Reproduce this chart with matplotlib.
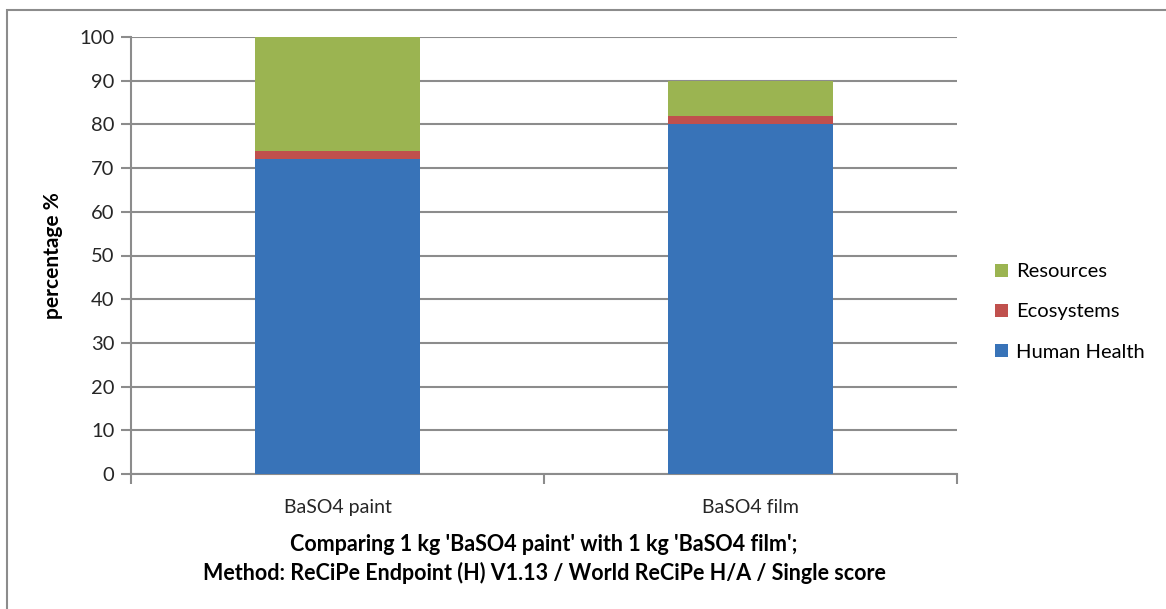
import matplotlib.pyplot as plt
from matplotlib.patches import Rectangle

# 单一评分结果（百分比）
products = ['BaSO4 paint', 'BaSO4 film']
human_health = [72, 80]
ecosystems = [2, 2]
resources = [26, 8]

yticks = list(range(0, 101, 10))

plt.rcParams['font.family'] = ['Lato', 'DejaVu Sans']

fig = plt.figure(figsize=(11.66, 6.09), dpi=100)
ax = fig.add_axes([131 / 1166, 1 - 474 / 609, (957 - 131) / 1166, (474 - 37) / 609])

# 外框
fig.patches.append(Rectangle((7 / 1166, -0.1), 1.2, 1 - 10 / 609 + 0.1,
                             transform=fig.transFigure, fill=False,
                             edgecolor='#8c8c8c', linewidth=1.5))

x = range(len(products))
bottom2 = [a + b for a, b in zip(human_health, ecosystems)]
ax.bar(x, human_health, width=0.4, color='#3873b8', zorder=3, label='Human Health')
ax.bar(x, ecosystems, width=0.4, bottom=human_health, color='#c0504d', zorder=3, label='Ecosystems')
ax.bar(x, resources, width=0.4, bottom=bottom2, color='#9bb451', zorder=3, label='Resources')

ax.set_xlim(-0.5, len(products) - 0.5)
ax.set_ylim(0, 100)
ax.set_yticks(yticks)
ax.set_xticks([-0.5, 0.5, 1.5])
ax.set_xticklabels([])
ax.set_xticks(list(x), minor=True)
ax.set_xticklabels(products, minor=True)
ax.tick_params(axis='x', which='minor', length=0, pad=18, labelsize=14, labelcolor='#262626')
ax.tick_params(axis='x', which='major', length=7, width=1.5, color='#8c8c8c')
ax.tick_params(axis='y', length=7, width=1.5, color='#8c8c8c', labelsize=14.5,
               labelcolor='#262626', pad=5)

ax.grid(axis='y', color='#8c8c8c', linewidth=1.5, zorder=0)
for s in ['top', 'right']:
    ax.spines[s].set_visible(False)
for s in ['left', 'bottom']:
    ax.spines[s].set_color('#8c8c8c')
    ax.spines[s].set_linewidth(1.5)

ax.set_ylabel('percentage %', fontsize=15, fontweight='bold', labelpad=12)
ax.set_xlabel("Comparing 1 kg 'BaSO4 paint' with 1 kg 'BaSO4 film';\n"
              "Method: ReCiPe Endpoint (H) V1.13 / World ReCiPe H/A / Single score",
              fontsize=15.5, fontweight='bold', linespacing=1.4, labelpad=13)

handles, labels = ax.get_legend_handles_labels()
fig.legend(handles[::-1], labels[::-1], loc='center left',
           bbox_to_anchor=(977 / 1166, 1 - 312 / 609),
           frameon=False, fontsize=14.5, handlelength=0.65, handleheight=0.65,
           handletextpad=0.4, labelspacing=1.15)

fig.savefig('out.png', dpi=100)
